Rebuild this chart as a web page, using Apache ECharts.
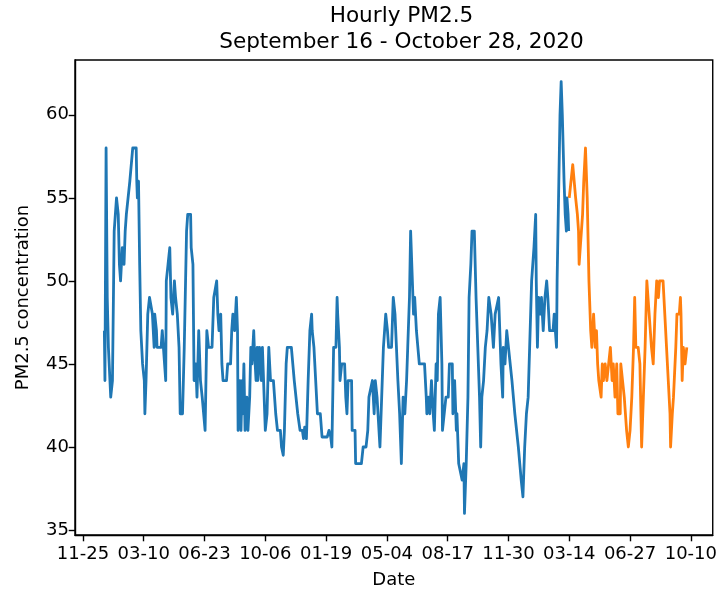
<!DOCTYPE html>
<html>
<head>
<meta charset="utf-8">
<script src="https://cdn.jsdelivr.net/npm/echarts@6/dist/echarts.min.js"></script>
<style>
  html, body { margin: 0; padding: 0; background: #fff; }
  #chart { width: 720px; height: 594px; }
</style>
</head>
<body>
<div id="chart"></div>
<script>
// Hour index (from the start of the record) and PM2.5 reading at each vertex of the trace
const trainHours = [0,1,3,5,7,11,14,17,21,24,26,28,31,34,36,38,41,44,47,49,55,56,57,59,61,63,66,69,70,72,75,78,81,83,86,87,90,91,98,100,103,106,107,110,113,115,118,121,123,126,129,131,135,138,142,144,149,150,153,155,158,160,163,166,169,171,174,177,180,186,189,191,194,196,198,201,203,205,211,213,218,220,222,225,228,230,231,234,236,238,239,241,243,246,248,251,253,255,258,259,262,264,265,268,271,273,276,278,281,284,287,292,296,299,304,306,309,311,314,316,323,328,334,338,342,344,346,349,352,355,358,359,362,365,368,373,376,385,388,391,393,396,400,402,403,406,407,410,415,417,419,421,427,428,433,434,444,447,452,455,457,460,463,466,468,471,473,476,479,482,484,486,489,491,496,497,499,502,504,507,510,513,516,519,522,524,527,529,531,534,536,539,541,544,547,553,556,557,560,562,565,568,570,573,575,577,580,583,584,587,590,594,596,601,602,605,608,609,612,615,618,621,622,625,628,630,633,635,639,642,645,648,650,652,655,658,661,664,666,668,672,675,678,681,682,685,688,689,692,695,698,704,709,715,720,723,726,729,732,735,738,741,742,745,746,748,750,753,755,758,761,764,766,769,775,777,779,781,782,785,787,789,791,794,796,798,799,801,802];
const trainPm25 = [47,44,58,49,46,43,44,53,55,54,51,50,52,51,53,54,54,56,56,58,58,56,55,56,51,47,45,44,42,44,48,49,49,48,46,48,47,46,46,47,47,44,50,51,52,49,48,50,49,48,46,42,42,46,53,54,54,52,51,44,45,43,47,44,43,43,41,47,46,46,49,49,50,48,47,48,45,44,44,45,45,47,48,47,49,47,41,44,41,44,42,45,41,43,41,43,46,45,47,46,44,46,44,46,44,46,43,41,42,46,44,44,42,41,41,40,39.5,41,45,46,46,44,42,41,41,40.5,41.2,40.5,44,47,48,47,46,44,42,42,40.6,40.6,41,40.6,40,46,46,49,48,46,44,45,45,43,42,44,44,41,41,39,39,40,40,41,43,43,44,42,44,43,43,40,43,46,46,48,47,46,46,47,49,48,48,44,42,39,43,42,44,46,49,53,51,48,49,47,47,45,45,45,43,42,43,42,44,42,41,45,44,48,49,45,41,41,43,43,45,45,42,44,41,42,39,39,38,39,36,39,43,49,51,53,53,49,46,43,40,43,44,46,47,49,49,48,46,48,48,49,48,45,43,46,45,47,46,44,42,40,38,37,40,42,43,43,50,50,52,54,50,46,49,48,49,47,49,50,49,47,47,48,48,46,50,56,60,62,60,56,54,53,55,54,53];
const testHours = [803,806,809,812,814,817,819,820,823,826,828,831,834,837,840,842,845,848,850,852,854,858,860,862,865,868,871,874,877,879,882,885,887,891,892,895,898,900,902,905,908,911,914,916,918,922,925,928,931,934,937,939,942,945,948,951,954,957,959,965,968,971,974,977,978,981,983,987,989,993,995,996,998,1000,1003,1006];
const testPm25 = [55,55,57,57,55,54,53,51,51,54,56,58,55,50,47,46,48,46,47,45,44,43,45,44,45,44,44,46,44,45,43,45,42,42,45,45,43,42,41,40,41,43,46,49,46,46,45,40,43,46,50,49,49,46,45,48,50,49,50,50,48,46,44,42,40,42,43,46,48,48,49,48,44,46,45,46];

// Date ticks, 105 days apart, placed on the hour-index scale
const xTickValues = [-37,68,173,278,383,488,593,698,803,908,1013];
const xTickLabels = ['11-25','03-10','06-23','10-06','01-19','05-04','08-17','11-30','03-14','06-27','10-10'];
const yTickValues = [35,40,45,50,55,60];

const zip = (xs, ys) => xs.map((x, i) => [x, ys[i]]);

const font = 'DejaVu Sans';
const chart = echarts.init(document.getElementById('chart'), null, { renderer: 'canvas' });

chart.setOption({
  animation: false,
  backgroundColor: '#fff',
  title: {
    text: 'Hourly PM2.5\nSeptember 16 - October 28, 2020',
    left: 396.5,
    top: -2,
    textAlign: 'center',
    textStyle: { fontFamily: font, fontSize: 21.6, fontWeight: 'normal', color: '#000', lineHeight: 26 }
  },
  grid: {
    left: 75, right: 2, top: 60, bottom: 55.5,
    show: true, borderColor: '#000', borderWidth: 1.4, backgroundColor: 'transparent'
  },
  xAxis: {
    type: 'value',
    min: -50.7,
    max: 1050.8,
    name: 'Date',
    nameLocation: 'middle',
    nameGap: 36,
    nameTextStyle: { fontFamily: font, fontSize: 18, color: '#000' },
    splitLine: { show: false },
    axisLine: { show: true, onZero: false, lineStyle: { color: '#000', width: 1.4 } },
    axisTick: { show: true, customValues: xTickValues, length: 6.3, lineStyle: { color: '#000', width: 1.4 } },
    axisLabel: {
      customValues: xTickValues,
      formatter: v => xTickLabels[xTickValues.indexOf(v)] || '',
      fontFamily: font, fontSize: 18, color: '#000', margin: 10
    }
  },
  yAxis: {
    type: 'value',
    min: 34.7,
    max: 63.3,
    name: 'PM2.5 concentration',
    nameLocation: 'middle',
    nameGap: 43,
    nameTextStyle: { fontFamily: font, fontSize: 18, color: '#000' },
    splitLine: { show: false },
    axisLine: { show: true, onZero: false, lineStyle: { color: '#000', width: 1.4 } },
    axisTick: { show: true, customValues: yTickValues, length: 6.3, lineStyle: { color: '#000', width: 1.4 } },
    axisLabel: {
      customValues: yTickValues,
      fontFamily: font, fontSize: 18, color: '#000', margin: 6
    }
  },
  series: [
    {
      name: 'train',
      type: 'line',
      data: zip(trainHours, trainPm25),
      showSymbol: false,
      lineStyle: { color: '#1f77b4', width: 2.8, join: 'round' },
      itemStyle: { color: '#1f77b4' }
    },
    {
      name: 'test',
      type: 'line',
      data: zip(testHours, testPm25),
      showSymbol: false,
      lineStyle: { color: '#ff7f0e', width: 2.8, join: 'round' },
      itemStyle: { color: '#ff7f0e' }
    }
  ]
});
</script>
</body>
</html>
